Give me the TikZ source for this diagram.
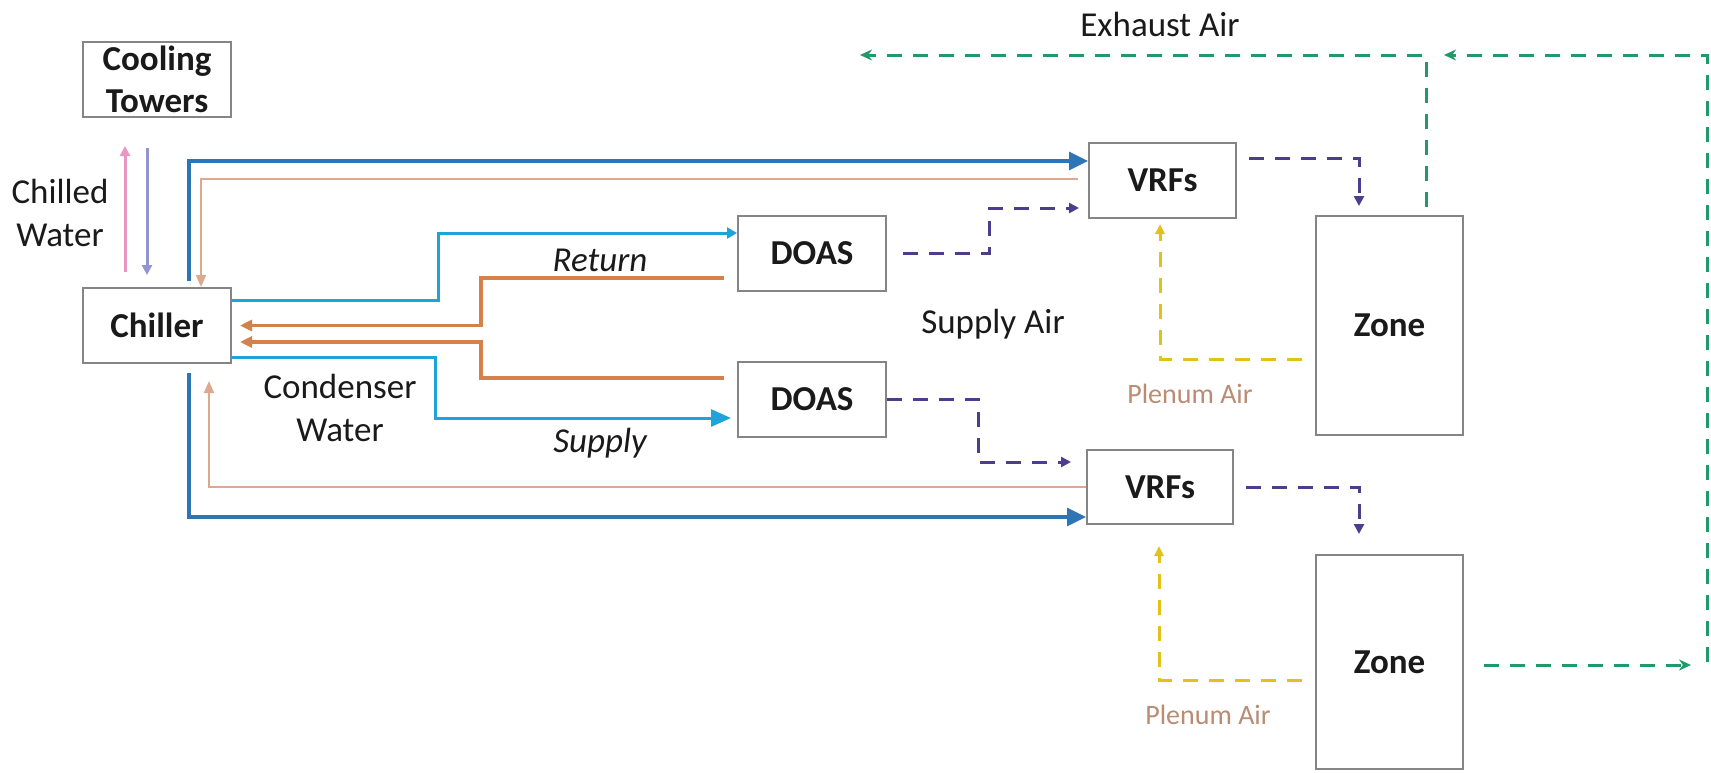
\documentclass[tikz,border=0pt]{standalone}
\usepackage{fontspec}
\setmainfont{Carlito}
\usetikzlibrary{arrows.meta}

\definecolor{boxgray}{HTML}{858585}
\definecolor{txt}{HTML}{1A1A1A}
\definecolor{chwblue}{HTML}{2E75B6}
\definecolor{cwcyan}{HTML}{1FA3DA}
\definecolor{cwret}{HTML}{D5824A}
\definecolor{tan}{HTML}{DDA98E}
\definecolor{pinkup}{HTML}{E996C2}
\definecolor{lavdown}{HTML}{9494CF}
\definecolor{airpurple}{HTML}{4E3C8E}
\definecolor{plenumyel}{HTML}{E2C21A}
\definecolor{exhgreen}{HTML}{1F9A6A}
\definecolor{plenumtxt}{HTML}{B98C73}

\tikzset{
  equip/.style={draw=boxgray, line width=2pt, fill=white, inner sep=0pt,
    minimum width=148pt, minimum height=75pt, text=txt,
    font=\fontsize{35}{42}\selectfont\bfseries, align=center},
  lbl/.style={inner sep=0pt, text=txt, font=\fontsize{35}{43}\selectfont, align=center},
  plenumlbl/.style={inner sep=0pt, text=plenumtxt, font=\fontsize{28}{34}\selectfont},
  blueline/.style={draw=chwblue, line width=3.3pt, -{Triangle[length=19pt,width=18pt]}},
  cyanline/.style={draw=cwcyan, line width=3pt},
  orangeline/.style={draw=cwret, line width=3.5pt, -{Triangle[length=12pt,width=11pt]}},
  tanline/.style={draw=tan, line width=2pt, -{Triangle[length=12pt,width=10pt]}},
  airdash/.style={line width=3pt, dash pattern=on 15pt off 11pt},
  purpledash/.style={airdash, draw=airpurple, -{Triangle[length=10pt,width=10pt]}},
  yellowdash/.style={airdash, draw=plenumyel, -{Triangle[length=10pt,width=9pt]}},
  greendash/.style={airdash, draw=exhgreen, -{Stealth[length=12pt,width=11pt]}},
}

\begin{document}
\begin{tikzpicture}[x=1pt,y=-1pt]
\useasboundingbox (0,0) rectangle (1711,772);

% equipment and zones
\node[equip] (towers)  at (157,79.5)   {Cooling\\Towers};
\node[equip] (chiller) at (157,325.5)  {Chiller};
\node[equip] (doas1)   at (812,253.5)  {DOAS};
\node[equip] (doas2)   at (812,399)    {DOAS};
\node[equip, minimum width=147pt] (vrf1) at (1162.5,180.5) {VRFs};
\node[equip, minimum width=146pt, minimum height=74pt] (vrf2) at (1160,487) {VRFs};
\node[equip, minimum width=147pt, minimum height=219pt] (zone1) at (1389.5,325.5) {Zone};
\node[equip, minimum width=147pt, minimum height=214pt] (zone2) at (1389.5,662) {Zone};

% chilled water between towers and chiller
\draw[pinkup, line width=3pt, -{Triangle[length=10pt,width=10pt]}]
  ([xshift=-32pt,yshift=15pt]chiller.north) -- ([xshift=-32pt,yshift=-28pt]towers.south);
\draw[lavdown, line width=3pt, -{Triangle[length=10pt,width=10pt]}]
  ([xshift=-10pt,yshift=-30pt]towers.south) -- ([xshift=-10pt,yshift=12pt]chiller.north);

% chiller to VRF loops
\draw[blueline] ([xshift=32pt,yshift=6pt]chiller.north) |- ([yshift=19.5pt]vrf1.west);
\draw[tanline] ([xshift=-10pt,yshift=1.5pt]vrf1.west) -| ([xshift=44pt]chiller.north);
\draw[tanline] (vrf2.west) -| ([xshift=52pt,yshift=-17pt]chiller.south);
\draw[blueline] ([xshift=32pt,yshift=-9pt]chiller.south) |- ([yshift=-30pt]vrf2.west);

% condenser water to the DOAS units
\draw[cyanline, -{Triangle[length=10pt,width=11pt]}]
  ([yshift=25.5pt]chiller.east) -- ++(206,0) |- ([yshift=20.5pt]doas1.west);
\draw[orangeline] ([xshift=-13pt,yshift=-24.5pt]doas1.west) -- ++(-243,0) |- ([xshift=8pt]chiller.east);
\draw[orangeline] ([xshift=-13pt,yshift=21pt]doas2.west) -- ++(-243,0) |- ([xshift=8pt,yshift=-16.5pt]chiller.east);
\draw[cyanline, -{Triangle[length=20pt,width=17pt]}]
  ([yshift=-31.5pt]chiller.east) -- ++(203,0) |- ([xshift=-6pt,yshift=-19pt]doas2.west);

% supply air
\draw[purpledash] ([xshift=16pt]doas1.east) -- ++(86,0) |- ([xshift=-9pt,yshift=-27.5pt]vrf1.west);
\draw[purpledash] (doas2.east) -- ++(91,0) |- ([xshift=-15pt,yshift=25pt]vrf2.west);
\draw[purpledash] ([xshift=12pt,yshift=22.5pt]vrf1.east) -| ([xshift=-30.5pt,yshift=9pt]zone1.north);
\draw[purpledash] ([xshift=12pt]vrf2.east) -| ([xshift=-30.5pt,yshift=20pt]zone2.north);

% plenum air
\draw[yellowdash] ([xshift=-13pt,yshift=-33.5pt]zone1.west) -| ([xshift=-2.5pt,yshift=-5pt]vrf1.south);
\draw[yellowdash] ([xshift=-13pt,yshift=-18pt]zone2.west) -| ([xshift=-1pt,yshift=-21pt]vrf2.south);

% exhaust air
\coordinate (exhaustEnd) at (860,55);
\coordinate (returnJoin) at (1444,55);
\coordinate (riserFoot)  at (1707,662);
\coordinate (zoneOut)    at (1691,665);
\draw[greendash] ([xshift=36.5pt,yshift=8pt]zone1.north) |- (exhaustEnd);
\draw[greendash] (riserFoot) |- (returnJoin);
\draw[greendash] ([xshift=20pt,yshift=-3pt]zone2.east) -- (zoneOut);

% labels
\node[lbl] (chilledLbl) at (60,213) {Chilled\\Water};
\node[lbl] (condLbl) at (340,408) {Condenser\\Water};
\node[lbl, anchor=base, font=\fontsize{35}{43}\selectfont\itshape] (retLbl) at (600,271) {Return};
\node[lbl, anchor=base, font=\fontsize{35}{43}\selectfont\itshape] (supLbl) at (600,452) {Supply};
\node[lbl, anchor=base] (supAirLbl) at (993,333) {Supply Air};
\node[lbl, anchor=base] (exhLbl) at (1160,36) {Exhaust Air};
\node[plenumlbl, anchor=base] (plen1) at (1190,403) {Plenum Air};
\node[plenumlbl, anchor=base] (plen2) at (1208,724) {Plenum Air};
\end{tikzpicture}
\end{document}
